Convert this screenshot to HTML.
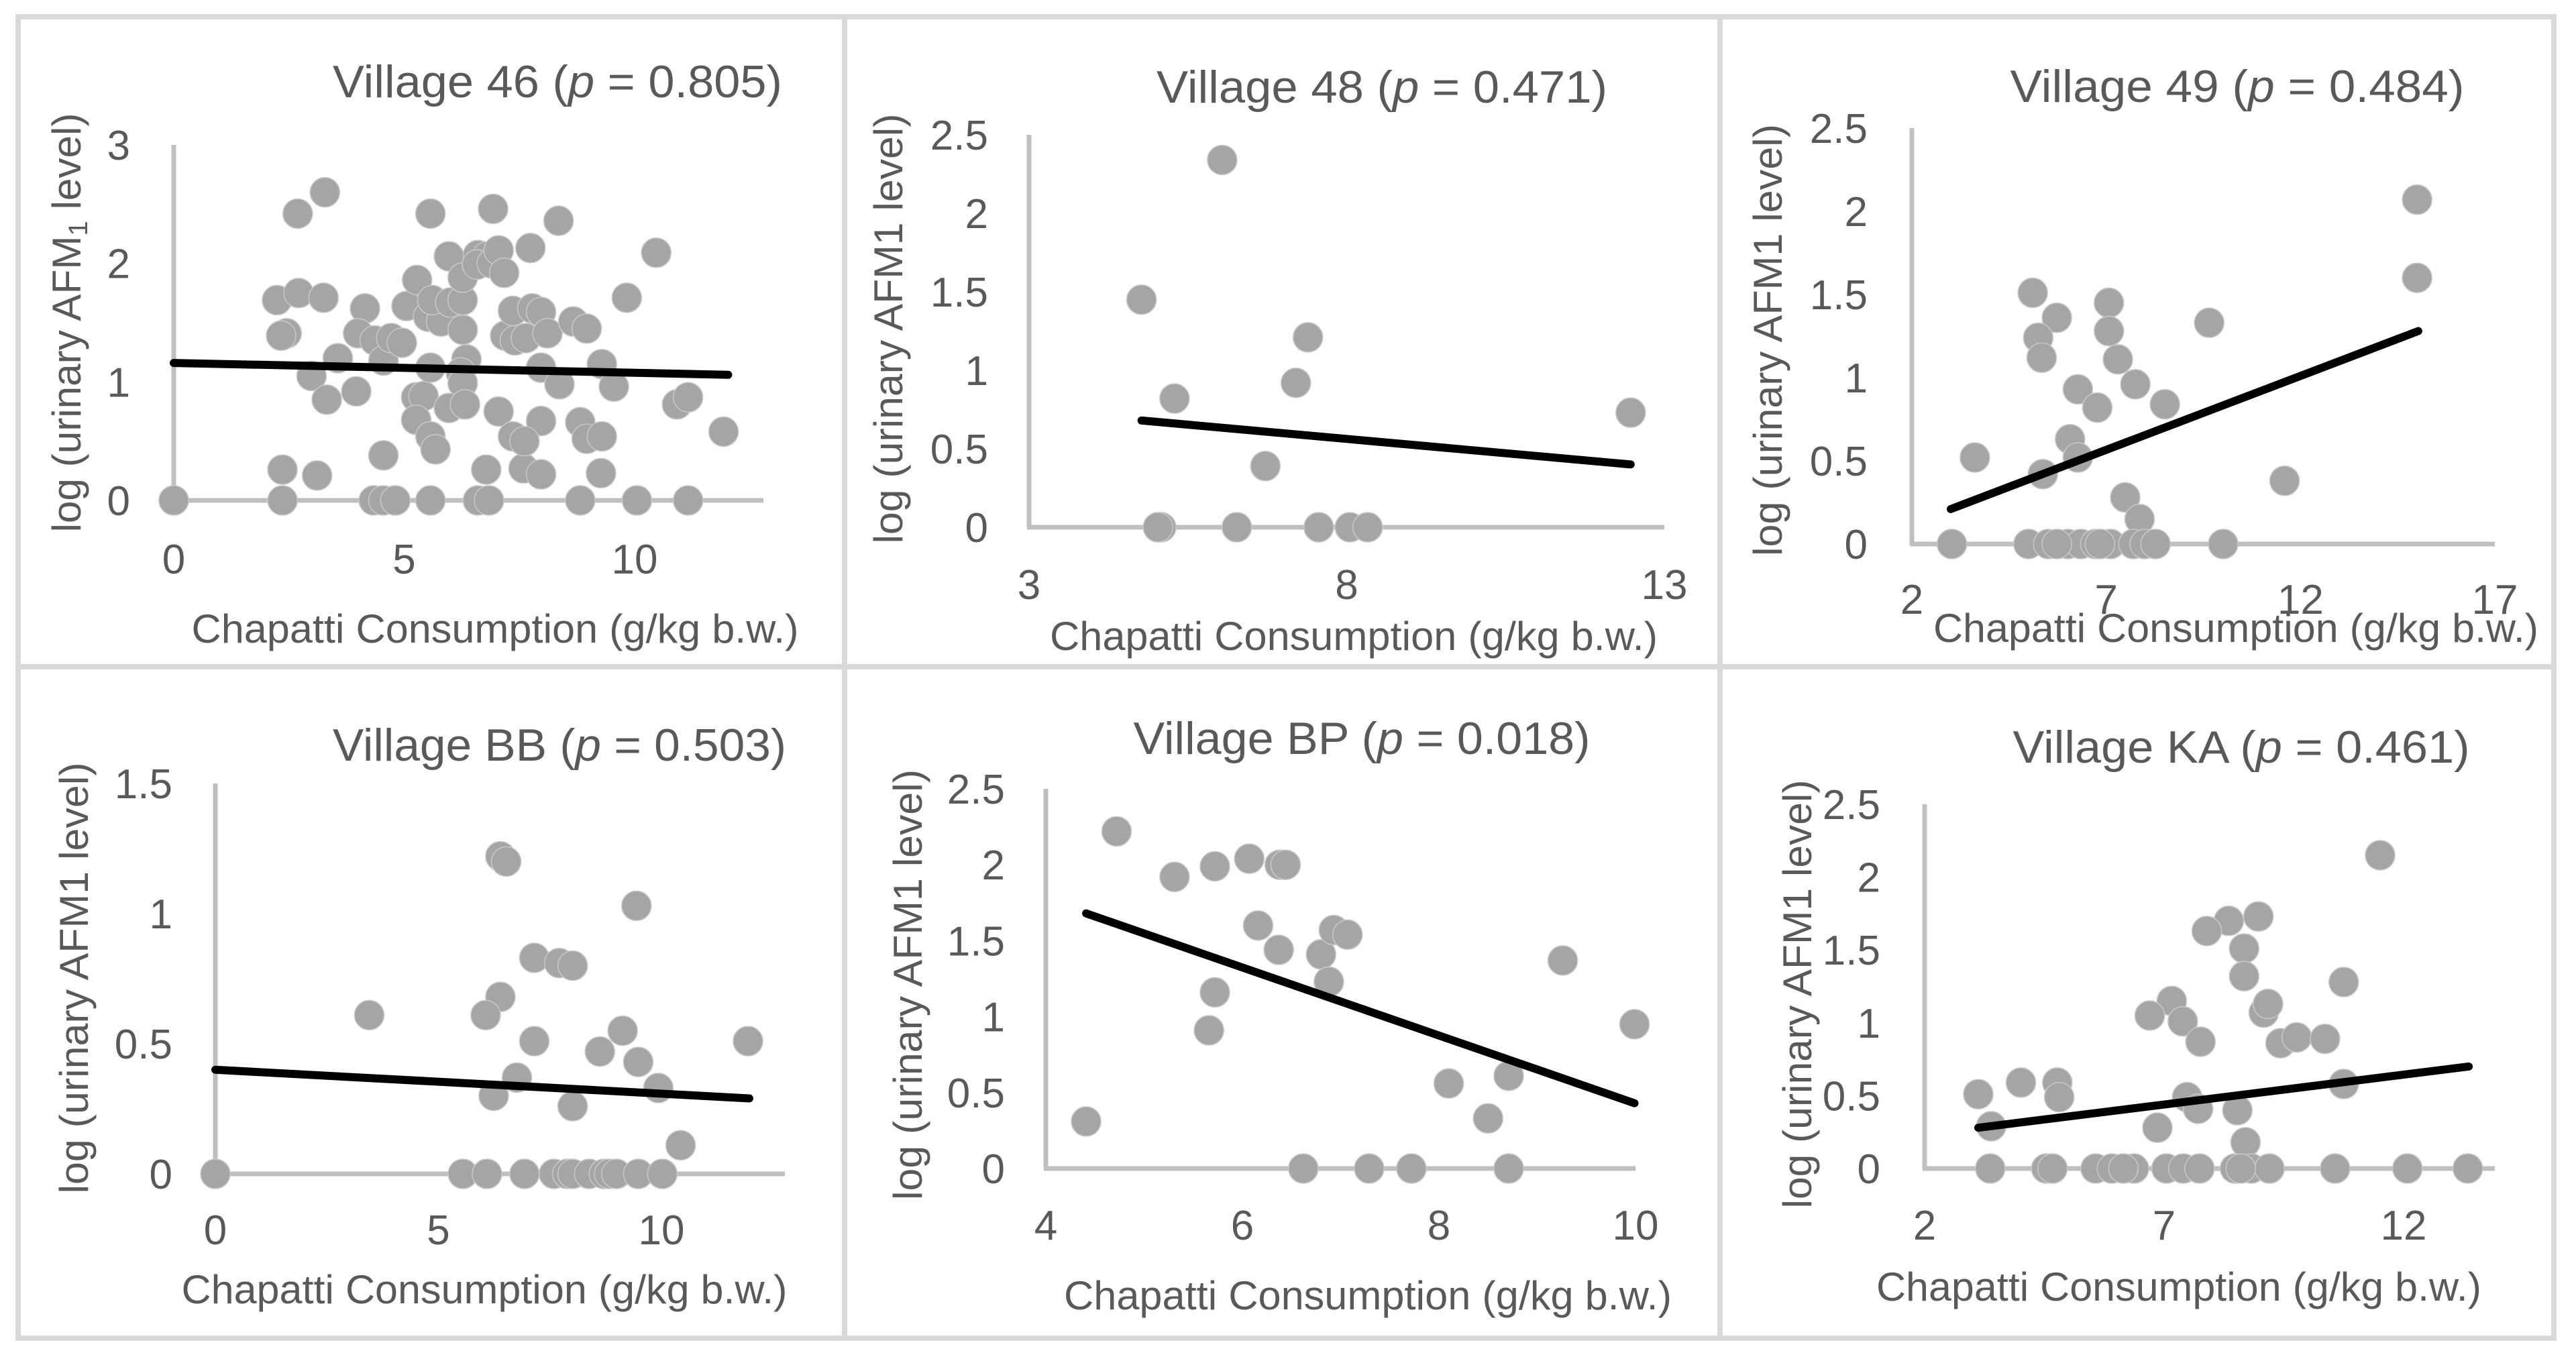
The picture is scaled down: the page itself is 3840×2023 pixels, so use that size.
<!DOCTYPE html>
<html><head><meta charset="utf-8"><style>
html,body{margin:0;padding:0;background:#fff;}
svg{display:block;}
text{font-family:"Liberation Sans",Arial,sans-serif;fill:#595959;}
</style></head><body>
<svg id="chart" width="3840" height="2023" viewBox="0 0 3840 2023" xmlns="http://www.w3.org/2000/svg">
<g stroke="#d9d9d9" stroke-width="8" fill="none">
<rect x="27" y="25" width="3780" height="1970"/>
<line x1="1259" y1="25" x2="1259" y2="1995"/>
<line x1="2564" y1="25" x2="2564" y2="1995"/>
<line x1="27" y1="994" x2="3807" y2="994"/>
</g>
</svg>
<script>
// ---- data ----
const v46X=[0,2.36,4.34,4.55,4.81,5.57,6.6,6.84,8.82,10.05,11.16,2.36,3.11,4.55,6.78,7.59,7.97,9.27,2.24,2.71,3.25,2.69,3.28,2.45,2.33,2.99,3.32,3.56,3.96,4.15,4.0,4.36,4.55,4.72,4.95,5.05,5.28,5.26,5.42,5.26,5.57,5.68,5.52,5.8,5.61,5.57,5.97,6.0,6.27,6.27,6.27,6.35,6.23,6.27,5.97,6.32,5.57,6.6,6.8,6.58,6.9,7.05,7.17,6.93,7.05,7.74,8.35,7.19,7.4,7.64,7.36,7.78,7.97,8.11,7.97,7.97,7.36,7.61,8.37,8.67,8.96,9.29,9.55,8.82,8.96,9.29,9.83,10.47,10.92,11.16,11.93];
const v46Y=[0,0,0,0,0,0,0,0,0,0,0,0.26,0.21,0.38,0.26,0.27,0.22,0.23,1.69,1.75,1.71,2.42,2.60,1.41,1.39,1.05,0.85,1.20,0.92,1.62,1.41,1.35,1.18,1.37,1.33,1.64,1.86,0.87,0.88,0.68,0.54,0.43,1.55,1.51,1.69,1.12,2.06,1.67,1.69,1.88,1.44,1.19,1.08,0.99,0.78,0.81,2.42,2.07,2.06,1.99,2.0,2.11,1.92,2.46,0.75,2.13,2.36,1.39,1.35,1.37,1.6,1.62,1.59,1.41,1.12,0.67,0.54,0.50,0.98,1.51,1.45,1.15,0.96,0.66,0.52,0.54,1.71,2.09,0.81,0.87,0.58];
const v46TrendX=[0,12.03];
const v46TrendY=[1.16,1.06];

const v48X=[6.04,4.77,7.39,7.20,5.29,6.72,12.47,5.08,5.03,6.27,7.56,8.05,8.33];
const v48Y=[2.34,1.45,1.21,0.92,0.82,0.39,0.73,0,0,0,0,0,0];
const v48TrendX=[4.77,12.47];
const v48TrendY=[0.68,0.40];

const v49X=[3.03,3.62,5.11,5.73,5.25,5.34,6.27,6.77,6.07,6.27,5.37,7.07,7.07,7.3,7.75,8.51,9.65,7.49,7.86,11.59,15.0,15.0,5.0,5.51,6.01,6.35,6.72,7.11,7.7,7.99,8.27,10.01,5.73,6.84];
const v49Y=[0,0.52,1.51,1.36,1.24,1.12,0.93,0.82,0.63,0.52,0.42,1.45,1.28,1.11,0.96,0.84,1.33,0.28,0.15,0.38,2.07,1.60,0,0,0,0,0,0,0,0,0,0,0,0];
const v49TrendX=[3.0,15.03];
const v49TrendY=[0.21,1.28];

const vBBX=[0,3.45,6.39,6.52,9.44,7.15,7.71,8.01,6.39,6.06,9.13,7.15,11.94,8.62,9.48,6.76,9.93,6.24,8.01,10.43,5.55,6.09,6.93,7.59,7.89,8.01,8.38,8.71,8.83,8.99,9.48,10.02];
const vBBY=[0,0.61,1.22,1.20,1.03,0.83,0.81,0.80,0.68,0.61,0.55,0.51,0.51,0.47,0.43,0.37,0.33,0.30,0.26,0.11,0,0,0,0,0,0,0,0,0,0,0,0];
const vBBTrendX=[0,11.97];
const vBBTrendY=[0.40,0.29];

const vBPX=[4.72,5.31,5.72,6.07,6.38,6.44,6.16,6.37,6.80,6.93,7.07,6.88,5.72,5.66,9.26,9.99,8.10,8.71,8.50,4.41,6.62,7.29,7.72,8.71];
const vBPY=[2.22,1.92,1.99,2.04,2.0,2.0,1.60,1.44,1.41,1.57,1.54,1.23,1.16,0.91,1.37,0.95,0.56,0.61,0.33,0.31,0,0,0,0];
const vBPTrendX=[4.41,9.99];
const vBPTrendY=[1.68,0.43];

const vKAX=[11.51,8.97,8.35,7.89,8.67,8.67,10.75,7.16,7.39,6.70,9.08,9.17,7.76,9.43,9.77,10.36,4.01,4.77,4.81,3.12,10.75,7.48,7.71,8.53,3.39,6.86,8.70,3.37,4.54,4.67,5.57,5.91,6.37,7.05,7.4,7.74,8.48,8.82,9.2,10.57,12.08,13.34,6.15,8.6];
const vKAY=[2.15,1.73,1.70,1.63,1.51,1.32,1.28,1.15,1.01,1.05,1.07,1.13,0.87,0.86,0.90,0.89,0.59,0.59,0.49,0.51,0.58,0.49,0.41,0.40,0.29,0.28,0.18,0,0,0,0,0,0,0,0,0,0,0,0,0,0,0,0,0];
const vKATrendX=[3.12,13.36];
const vKATrendY=[0.28,0.70];

const ticks46X=["0","5","10"], ticks46Y=["0","1","2","3"];
const ticks48X=["3","8","13"], ticks48Y=["0","0.5","1","1.5","2","2.5"];
const ticks49X=["2","7","12","17"], ticks49Y=["0","0.5","1","1.5","2","2.5"];
const ticksBBX=["0","5","10"], ticksBBY=["0","0.5","1","1.5"];
const ticksBPX=["4","6","8","10"], ticksBPY=["0","0.5","1","1.5","2","2.5"];
const ticksKAX=["2","7","12"], ticksKAY=["0","0.5","1","1.5","2","2.5"];

// ---- layout (pixels) ----
const panels=[
 {id:'village-46',title:'Village 46',p:'0.805',xs:ticks46X,ys:ticks46Y,X:v46X,Y:v46Y,TX:v46TrendX,TY:v46TrendY,
  x0:0,x0px:259,x1:10,x1px:946,xEnd:1138,y0px:746,yTopVal:3,yTopPx:216,tickR:194,tickB:109,
  tt:[831,145,670],xt:[738,958,905],yt:[120,481,625],sub:true},
 {id:'village-48',title:'Village 48',p:'0.471',xs:ticks48X,ys:ticks48Y,X:v48X,Y:v48Y,TX:v48TrendX,TY:v48TrendY,
  x0:3,x0px:1534,x1:13,x1px:2481,xEnd:2481,y0px:786,yTopVal:2.5,yTopPx:201,tickR:1473,tickB:107,
  tt:[2060,153,672],xt:[2018,969,906],yt:[1345,490,641]},
 {id:'village-49',title:'Village 49',p:'0.484',xs:ticks49X,ys:ticks49Y,X:v49X,Y:v49Y,TX:v49TrendX,TY:v49TrendY,
  x0:2,x0px:2850,x1:17,x1px:3719,xEnd:3719,y0px:811,yTopVal:2.5,yTopPx:191,tickR:2784,tickB:104,
  tt:[3335,152,677],xt:[3333,957,902],yt:[2656,507,644]},
 {id:'village-bb',title:'Village BB',p:'0.503',xs:ticksBBX,ys:ticksBBY,X:vBBX,Y:vBBY,TX:vBBTrendX,TY:vBBTrendY,
  x0:0,x0px:321,x1:10,x1px:986,xEnd:1170,y0px:1750,yTopVal:1.5,yTopPx:1168,tickR:257,tickB:105,
  tt:[834,1134,676],xt:[722,1943,903],yt:[131,1458,643]},
 {id:'village-bp',title:'Village BP',p:'0.018',xs:ticksBPX,ys:ticksBPY,X:vBPX,Y:vBPY,TX:vBPTrendX,TY:vBPTrendY,
  x0:4,x0px:1559,x1:10,x1px:2438,xEnd:2438,y0px:1742,yTopVal:2.5,yTopPx:1176,tickR:1498,tickB:106,
  tt:[2030,1124,681],xt:[2039,1952,906],yt:[1374,1468,642]},
 {id:'village-ka',title:'Village KA',p:'0.461',xs:ticksKAX,ys:ticksKAY,X:vKAX,Y:vKAY,TX:vKATrendX,TY:vKATrendY,
  x0:2,x0px:2869,x1:12,x1px:3583,xEnd:3719,y0px:1742,yTopVal:2.5,yTopPx:1199,tickR:2803,tickB:106,
  tt:[3341,1137,681],xt:[3248,1939,902],yt:[2700,1482,639]}
];

const NS='http://www.w3.org/2000/svg';
const svg=document.getElementById('chart');
function mk(tag,attrs,parent){const e=document.createElementNS(NS,tag);for(const k in attrs)e.setAttribute(k,attrs[k]);parent.appendChild(e);return e;}

panels.forEach(P=>{
  const g=mk('g',{},svg);
  
  
  const sx=v=>P.x0px+(v-P.x0)*(P.x1px-P.x0px)/(P.x1-P.x0);
  const sy=v=>P.y0px-v*(P.y0px-P.yTopPx)/P.yTopVal;
  const ya=mk('line',{x1:P.x0px,y1:P.yTopPx,x2:P.x0px,y2:P.y0px,stroke:'#bfbfbf','stroke-width':7},g);
  
  
  const xa=mk('line',{x1:P.x0px-3,y1:P.y0px,x2:P.xEnd,y2:P.y0px,stroke:'#bfbfbf','stroke-width':7},g);
  
  
  P.ys.forEach(t=>{
    const e=mk('text',{x:P.tickR,y:sy(parseFloat(t))+22,'text-anchor':'end','font-size':62},g);
    
    
    e.textContent=t;
  });
  P.xs.forEach(t=>{
    const e=mk('text',{x:sx(parseFloat(t)),y:P.y0px+P.tickB,'text-anchor':'middle','font-size':62},g);
    
    
    e.textContent=t;
  });
  P.X.forEach((xv,i)=>{
    const c=mk('circle',{cx:sx(xv),cy:sy(P.Y[i]),r:22,fill:'#a5a5a5',stroke:'#c8c8c8','stroke-width':1.5},g);
    
    
  });
  const tl=mk('line',{x1:sx(P.TX[0]),y1:sy(P.TY[0]),x2:sx(P.TX[1]),y2:sy(P.TY[1]),stroke:'#000','stroke-width':12,'stroke-linecap':'round'},g);
  
  
  const tt=mk('text',{x:P.tt[0],y:P.tt[1],'text-anchor':'middle','font-size':68,textLength:P.tt[2],lengthAdjust:'spacingAndGlyphs'},g);
  
  
  tt.appendChild(document.createTextNode(P.title+' ('));
  const it=mk('tspan',{'font-style':'italic'},tt); it.textContent='p';
  tt.appendChild(document.createTextNode(' = '+P.p+')'));
  const xt=mk('text',{x:P.xt[0],y:P.xt[1],'text-anchor':'middle','font-size':60,textLength:P.xt[2],lengthAdjust:'spacingAndGlyphs'},g);
  
  
  xt.textContent='Chapatti Consumption (g/kg b.w.)';
  const yt=mk('text',{x:0,y:0,'text-anchor':'middle','font-size':60,textLength:P.yt[2],lengthAdjust:'spacingAndGlyphs',transform:'translate('+P.yt[0]+','+P.yt[1]+') rotate(-90)'},g);
  
  
  if(P.sub){
    yt.appendChild(document.createTextNode('log (urinary AFM'));
    const s=mk('tspan',{'font-size':40,dy:10},yt); s.textContent='1';
    const r=mk('tspan',{dy:-10},yt); r.textContent=' level)';
  } else {
    yt.textContent='log (urinary AFM1 level)';
  }
});
</script>
</body></html>
